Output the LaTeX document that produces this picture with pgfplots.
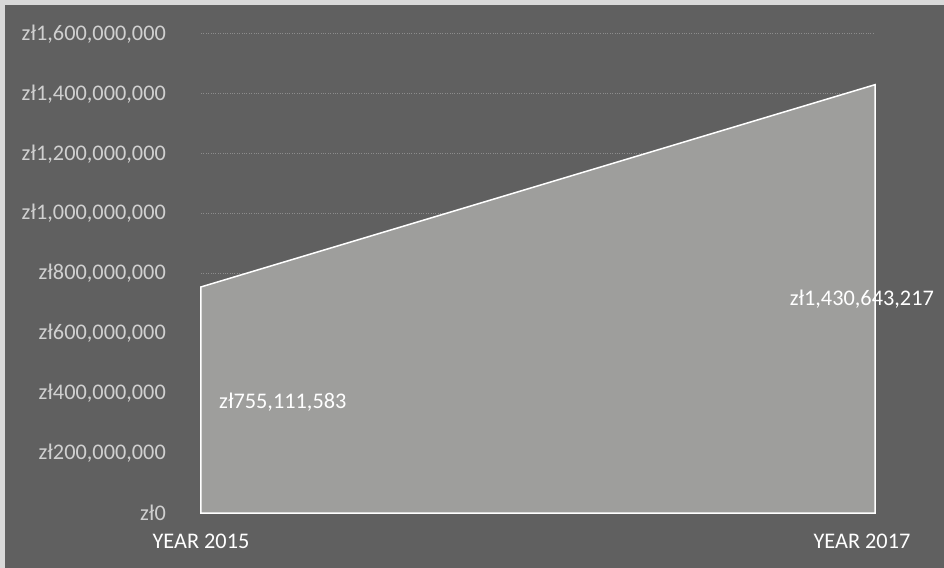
\documentclass[border=0pt]{standalone}
\usepackage{pgfplots}
\pgfplotsset{compat=1.18}
\usepackage{fontspec}
\setmainfont{Carlito}
\definecolor{bgdark}{HTML}{606060}
\definecolor{bglight}{HTML}{D9D9D9}
\definecolor{areafill}{HTML}{9E9E9C}
\definecolor{ticktext}{HTML}{D0D0D0}
\definecolor{gridc}{HTML}{8C8C8C}
\begin{document}
\begin{tikzpicture}
\fill[bglight] (-201bp,-55bp) rectangle (743bp,513bp);
\fill[bgdark] (-196bp,-55bp) rectangle (743bp,508bp);
\useasboundingbox (-201bp,-55bp) rectangle (743bp,513bp);
\begin{axis}[
  at={(0,0)}, anchor=south west,
  scale only axis, width=674bp, height=479bp,
  xmin=0, xmax=1, ymin=0, ymax=1600000000,
  clip=false,
  scaled y ticks=false,
  axis line style={draw=none},
  major tick length=0,
  xtick={0,1}, xticklabels={YEAR 2015,{YEAR 2017\hspace*{26bp}}},
  ytick={0,200000000,400000000,600000000,800000000,1000000000,1200000000,1400000000,1600000000},
  yticklabels={{zł0},{zł200,000,000},{zł400,000,000},{zł600,000,000},{zł800,000,000},{zł1,000,000,000},{zł1,200,000,000},{zł1,400,000,000},{zł1,600,000,000}},
  /pgf/number format/assume math mode=true,
  yticklabel style={anchor=east, inner sep=0pt, xshift=-35bp, text=ticktext, font=\fontsize{22.3bp}{26bp}\selectfont},
  xticklabel style={anchor=north, inner sep=0pt, yshift=-21bp, text=white, font=\fontsize{22.3bp}{26bp}\selectfont},
  ymajorgrids, grid style={gridc, dotted, line width=1bp},
]
\addplot[fill=areafill, draw=white, line width=1.5bp] coordinates {(0,755111583) (1,1430643217)} \closedcycle;
\addplot[draw=none, mark=none, nodes near coords, point meta=explicit symbolic,
  nodes near coords style={anchor=west, inner sep=0pt, xshift=18bp, yshift=-2bp, text=white, font=\fontsize{22.3bp}{26bp}\selectfont}]
  table[meta=lab] {
x y lab
0 377555791 zł755,111,583
};
\addplot[draw=none, mark=none, nodes near coords, point meta=explicit symbolic,
  nodes near coords style={anchor=east, inner sep=0pt, xshift=59bp, text=white, font=\fontsize{22.3bp}{26bp}\selectfont}]
  table[meta=lab] {
x y lab
1 715321608 zł1,430,643,217
};
\end{axis}
\end{tikzpicture}
\end{document}
